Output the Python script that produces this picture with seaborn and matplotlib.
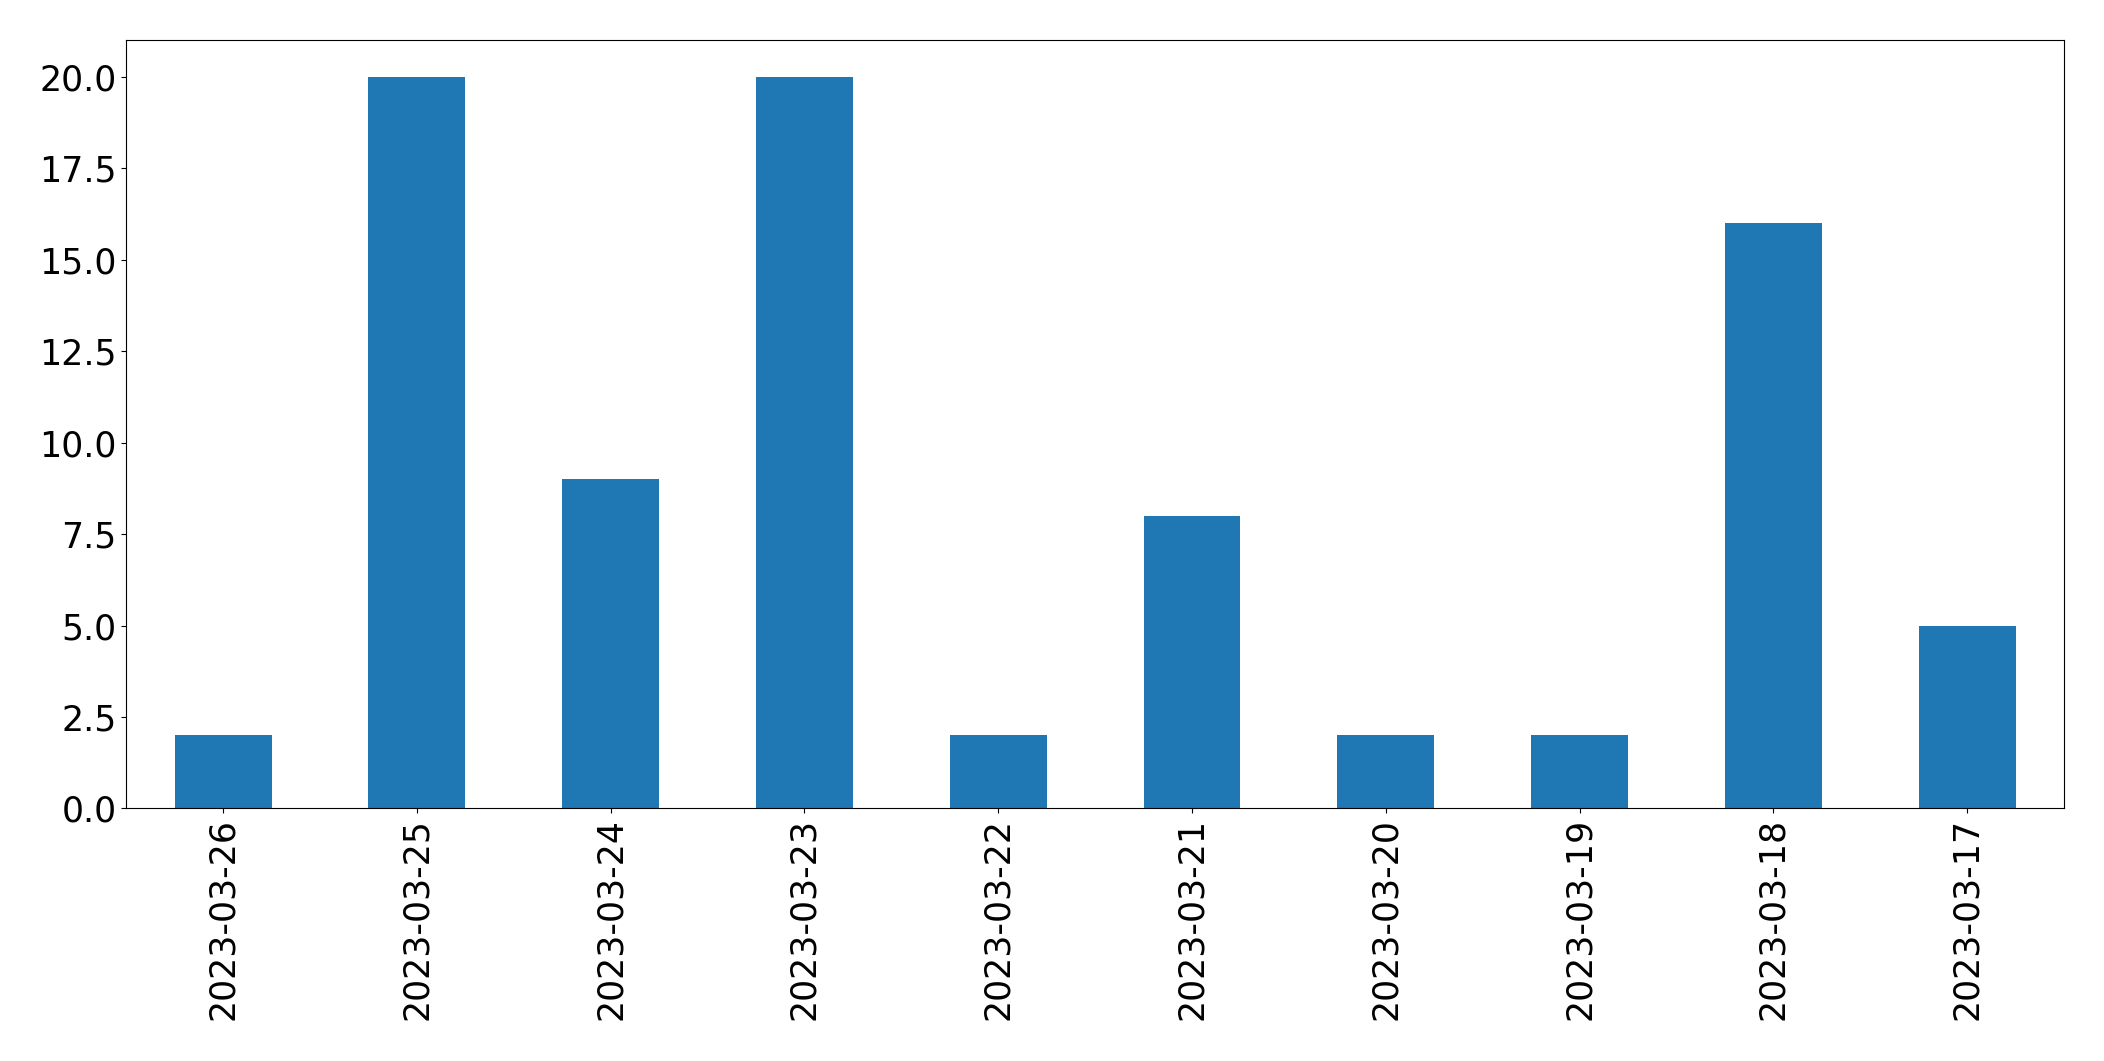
import matplotlib
matplotlib.use("Agg")
import matplotlib.pyplot as plt
import seaborn as sns
import pandas as pd

dates = ["2023-03-26", "2023-03-25", "2023-03-24", "2023-03-23", "2023-03-22",
         "2023-03-21", "2023-03-20", "2023-03-19", "2023-03-18", "2023-03-17"]
counts = [2, 20, 9, 20, 2, 8, 2, 2, 16, 5]

df = pd.DataFrame({"date": dates, "count": counts})

fig = plt.figure(figsize=(21.04, 10.61), dpi=100)
ax = fig.add_axes([0.060, 0.238, 0.921, 0.724])
sns.barplot(data=df, x="date", y="count", order=dates, color="#1f77b4",
            saturation=1, width=0.5, linewidth=0, ax=ax)
ax.set_xlim(-0.5, len(dates) - 0.5)
ax.set_ylim(0, 21)
ax.set_yticks([0, 2.5, 5, 7.5, 10, 12.5, 15, 17.5, 20])
ax.set_yticklabels(["0.0", "2.5", "5.0", "7.5", "10.0", "12.5", "15.0", "17.5", "20.0"])
ax.set_xlabel("")
ax.set_ylabel("")
ax.tick_params(axis="both", labelsize=25)
ax.tick_params(axis="x", rotation=90)
fig.savefig("out.png", dpi=100)
